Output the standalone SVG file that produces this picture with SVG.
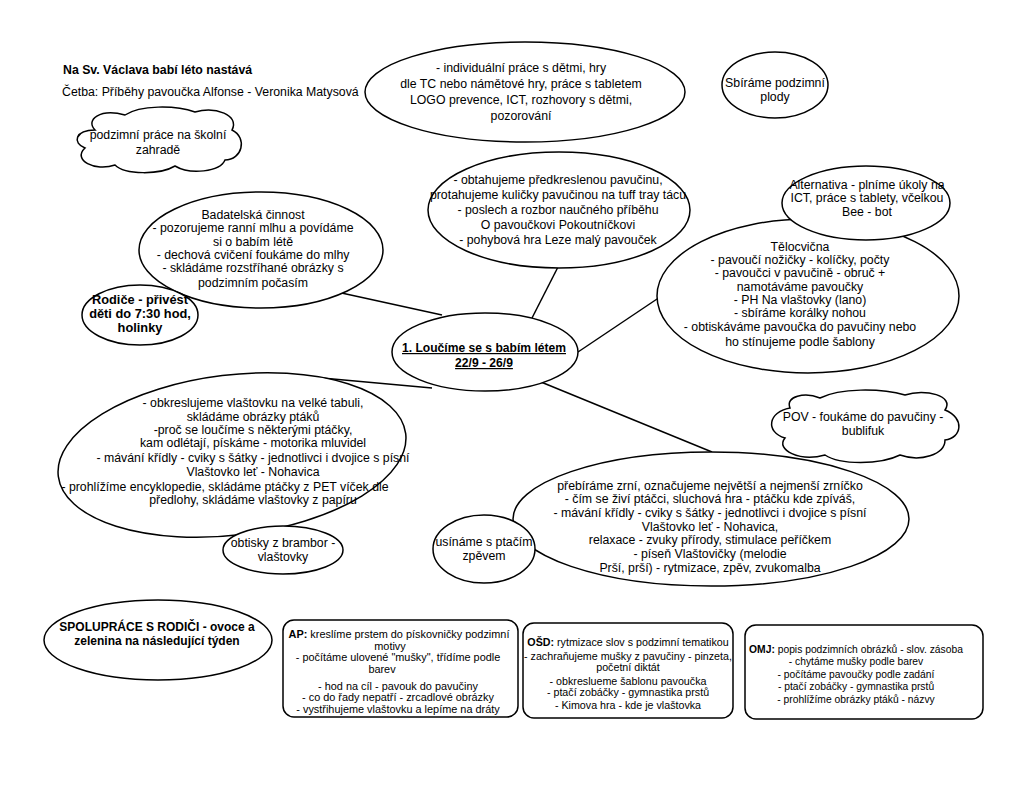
<svg xmlns="http://www.w3.org/2000/svg" width="1024" height="791" viewBox="0 0 1024 791">
<style>
.sh{fill:#fff;stroke:#000;stroke-width:1.5}
.ln{stroke:#000;stroke-width:1.5;fill:none}
text{font-family:"Liberation Sans",Arial,sans-serif;fill:#000;text-anchor:middle}
.t{font-size:12.3px}
.s{font-size:10.7px}
.b{font-weight:bold}
.l{text-anchor:start}
</style>
<rect width="1024" height="791" fill="#fff"/>
<g id="connectors">
<line class="ln" x1="337" y1="292" x2="442" y2="315"/>
<line class="ln" x1="558" y1="267" x2="532" y2="318"/>
<line class="ln" x1="578" y1="352" x2="660" y2="297"/>
<line class="ln" x1="541" y1="382" x2="712" y2="452"/>
<line class="ln" x1="432" y1="388" x2="322" y2="378"/>
</g>
<g id="title">
<text class="b l" x="63" y="74" style="font-size:12.3px">Na Sv. Václava babí léto nastává</text>
<text class="t l" x="62" y="96">Četba: Příběhy pavoučka Alfonse - Veronika Matysová</text>
</g>
<g id="cloud-zahrada">
<path class="sh" d="M95,130 C85,120 100,108 125,115 C140,105 175,105 195,112 C215,106 240,115 232,130 C248,138 242,160 225,160 C220,172 190,175 175,166 C160,175 125,175 115,165 C95,172 72,160 85,148 C72,143 75,130 95,130 Z"/>
<text class="t" x="158" y="139">podzimní práce na školní</text>
<text class="t" x="158" y="154">zahradě</text>
</g>
<g id="node-individualni">
<ellipse class="sh" cx="525" cy="92" rx="160" ry="50"/>
<text class="t" x="521" y="72">- individuální práce s dětmi, hry</text>
<text class="t" x="521" y="88">dle TC nebo námětové hry, práce s tabletem</text>
<text class="t" x="521" y="104">LOGO prevence, ICT, rozhovory s dětmi,</text>
<text class="t" x="521" y="120">pozorování</text>
</g>
<g id="node-plody">
<ellipse class="sh" cx="775" cy="85" rx="53" ry="33"/>
<text class="t" x="775" y="87">Sbíráme podzimní</text>
<text class="t" x="775" y="101">plody</text>
</g>
<g id="node-pavucina">
<ellipse class="sh" cx="559" cy="210" rx="131" ry="58"/>
<text class="t" x="558" y="184">- obtahujeme předkreslenou pavučinu,</text>
<text class="t" x="558" y="199">protahujeme kuličky pavučinou na tuff tray tácu</text>
<text class="t" x="558" y="214">- poslech a rozbor naučného příběhu</text>
<text class="t" x="558" y="229">O pavoučkovi Pokoutníčkovi</text>
<text class="t" x="558" y="244">- pohybová hra Leze malý pavouček</text>
</g>
<g id="node-badatelska">
<ellipse class="sh" cx="261" cy="250" rx="122" ry="58"/>
<text class="t" x="253" y="219">Badatelská činnost</text>
<text class="t" x="253" y="232">- pozorujeme ranní mlhu a povídáme</text>
<text class="t" x="253" y="246">si o babím létě</text>
<text class="t" x="253" y="259">- dechová cvičení foukáme do mlhy</text>
<text class="t" x="253" y="272">- skládáme rozstříhané obrázky s</text>
<text class="t" x="253" y="287">podzimním počasím</text>
</g>
<g id="node-rodice">
<ellipse class="sh" cx="140" cy="315" rx="58" ry="30"/>
<text class="b" x="140" y="304" style="font-size:12.8px">Rodiče - přivést</text>
<text class="b" x="140" y="318" style="font-size:12.8px">děti do 7:30 hod,</text>
<text class="b" x="140" y="332" style="font-size:12.8px">holinky</text>
</g>
<g id="node-center">
<ellipse class="sh" cx="485" cy="352" rx="93" ry="39"/>
<text class="b" x="484" y="352" style="font-size:12.1px;text-decoration:underline">1. Loučíme se s babím létem</text>
<text class="b" x="484" y="367" style="font-size:12.1px;text-decoration:underline">22/9 - 26/9</text>
</g>
<g id="node-telocvicna">
<ellipse class="sh" cx="808" cy="296" rx="151" ry="77"/>
<text class="t" x="800" y="251">Tělocvična</text>
<text class="t" x="800" y="264">- pavoučí nožičky - kolíčky, počty</text>
<text class="t" x="800" y="277">- pavoučci v pavučině - obruč +</text>
<text class="t" x="800" y="291">namotáváme pavoučky</text>
<text class="t" x="800" y="304">- PH Na vlaštovky (lano)</text>
<text class="t" x="800" y="317">- sbíráme korálky nohou</text>
<text class="t" x="800" y="331">- obtiskáváme pavoučka do pavučiny nebo</text>
<text class="t" x="800" y="346">ho stínujeme podle šablony</text>
</g>
<g id="node-alternativa">
<ellipse class="sh" cx="866" cy="203" rx="84" ry="37"/>
<text class="t" x="867" y="189">Alternativa - plníme úkoly na</text>
<text class="t" x="867" y="202">ICT, práce s tablety, včelkou</text>
<text class="t" x="867" y="216">Bee - bot</text>
</g>
<g id="node-vlastovka">
<ellipse class="sh" cx="232" cy="455" rx="175" ry="80" transform="rotate(-7 232 455)"/>
<text class="t" x="253" y="407">- obkreslujeme vlaštovku na velké tabuli,</text>
<text class="t" x="253" y="421">skládáme obrázky ptáků</text>
<text class="t" x="253" y="434">-proč se loučíme s některými ptáčky,</text>
<text class="t" x="253" y="447">kam odlétají, pískáme - motorika mluvidel</text>
<text class="t" x="253" y="462">- mávání křídly - cviky s šátky - jednotlivci i dvojice s písní</text>
<text class="t" x="253" y="476">Vlaštovko leť - Nohavica</text>
<text class="t" x="225" y="491">- prohlížíme encyklopedie, skládáme ptáčky z PET víček dle</text>
<text class="t" x="253" y="504">předlohy, skládáme vlaštovky z papíru</text>
</g>
<g id="node-obtisky">
<ellipse class="sh" cx="283" cy="550" rx="60" ry="24"/>
<text class="t" x="283" y="547">obtisky z brambor -</text>
<text class="t" x="283" y="561">vlaštovky</text>
</g>
<g id="node-zrni">
<ellipse class="sh" cx="711" cy="519" rx="198" ry="67"/>
<text class="t" x="710" y="490">přebíráme zrní, označujeme největší a nejmenší zrníčko</text>
<text class="t" x="710" y="503">- čím se živí ptáčci, sluchová hra - ptáčku kde zpíváš,</text>
<text class="t" x="710" y="517">- mávání křídly - cviky s šátky - jednotlivci i dvojice s písní</text>
<text class="t" x="710" y="531">Vlaštovko leť - Nohavica,</text>
<text class="t" x="710" y="544">relaxace - zvuky přírody, stimulace peříčkem</text>
<text class="t" x="710" y="558">- píseň Vlaštovičky (melodie</text>
<text class="t" x="710" y="572">Prší, prší) - rytmizace, zpěv, zvukomalba</text>
</g>
<g id="node-usiname">
<ellipse class="sh" cx="484" cy="549" rx="51" ry="34"/>
<text class="t" x="484" y="546">usínáme s ptačím</text>
<text class="t" x="484" y="560">zpěvem</text>
</g>
<g id="cloud-pov">
<path class="sh" d="M790,408 C785,396 805,392 820,398 C840,388 880,388 905,395 C925,388 955,396 945,410 C965,418 962,438 945,440 C945,455 920,462 900,455 C880,465 840,465 825,455 C800,462 775,450 785,438 C765,432 768,412 790,408 Z"/>
<text class="t" x="863" y="421">POV - foukáme do pavučiny -</text>
<text class="t" x="863" y="435">bublifuk</text>
</g>
<g id="node-spoluprace">
<ellipse class="sh" cx="158" cy="640" rx="114" ry="40"/>
<text class="b" x="157" y="631" style="font-size:12px">SPOLUPRÁCE S RODIČI - ovoce a</text>
<text class="b" x="157" y="645" style="font-size:12px">zelenina na následující týden</text>
</g>
<g id="box-ap">
<rect class="sh" x="283" y="620" width="235" height="97" rx="11"/>
<text class="s" x="399" y="638" style="font-size:10.9px"><tspan class="b">AP:</tspan> kreslíme prstem do pískovničky podzimní</text>
<text class="s" x="390" y="650" style="font-size:10.9px">motivy</text>
<text class="s" x="398" y="661" style="font-size:10.9px">- počítáme ulovené "mušky", třídíme podle</text>
<text class="s" x="382" y="673" style="font-size:10.9px">barev</text>
<text class="s" x="398" y="690" style="font-size:10.9px">- hod na cíl - pavouk do pavučiny</text>
<text class="s" x="398" y="701" style="font-size:10.9px">- co do řady nepatří - zrcadlové obrázky</text>
<text class="s" x="398" y="713" style="font-size:10.9px">- vystřihujeme vlaštovku a lepíme na dráty</text>
</g>
<g id="box-osd">
<rect class="sh" x="523" y="623" width="210" height="95" rx="11"/>
<text class="s" x="628" y="646"><tspan class="b">OŠD:</tspan> rytmizace slov s podzimní tematikou</text>
<text class="s" x="628" y="660">- zachraňujeme mušky z pavučiny - pinzeta,</text>
<text class="s" x="628" y="671">početní diktát</text>
<text class="s" x="628" y="685">- obkreslueme šablonu pavoučka</text>
<text class="s" x="628" y="696">- ptačí zobáčky - gymnastika prstů</text>
<text class="s" x="628" y="709">- Kimova hra - kde je vlaštovka</text>
</g>
<g id="box-omj">
<rect class="sh" x="745" y="625" width="238" height="94" rx="11"/>
<text class="s" x="856" y="653" style="font-size:10.3px"><tspan class="b">OMJ:</tspan> popis podzimních obrázků - slov. zásoba</text>
<text class="s" x="856" y="665" style="font-size:10.3px">- chytáme mušky podle barev</text>
<text class="s" x="856" y="678" style="font-size:10.3px">- počítáme pavoučky podle zadání</text>
<text class="s" x="856" y="690" style="font-size:10.3px">- ptačí zobáčky - gymnastika prstů</text>
<text class="s" x="856" y="703" style="font-size:10.3px">- prohlížíme obrázky ptáků - názvy</text>
</g>
</svg>
